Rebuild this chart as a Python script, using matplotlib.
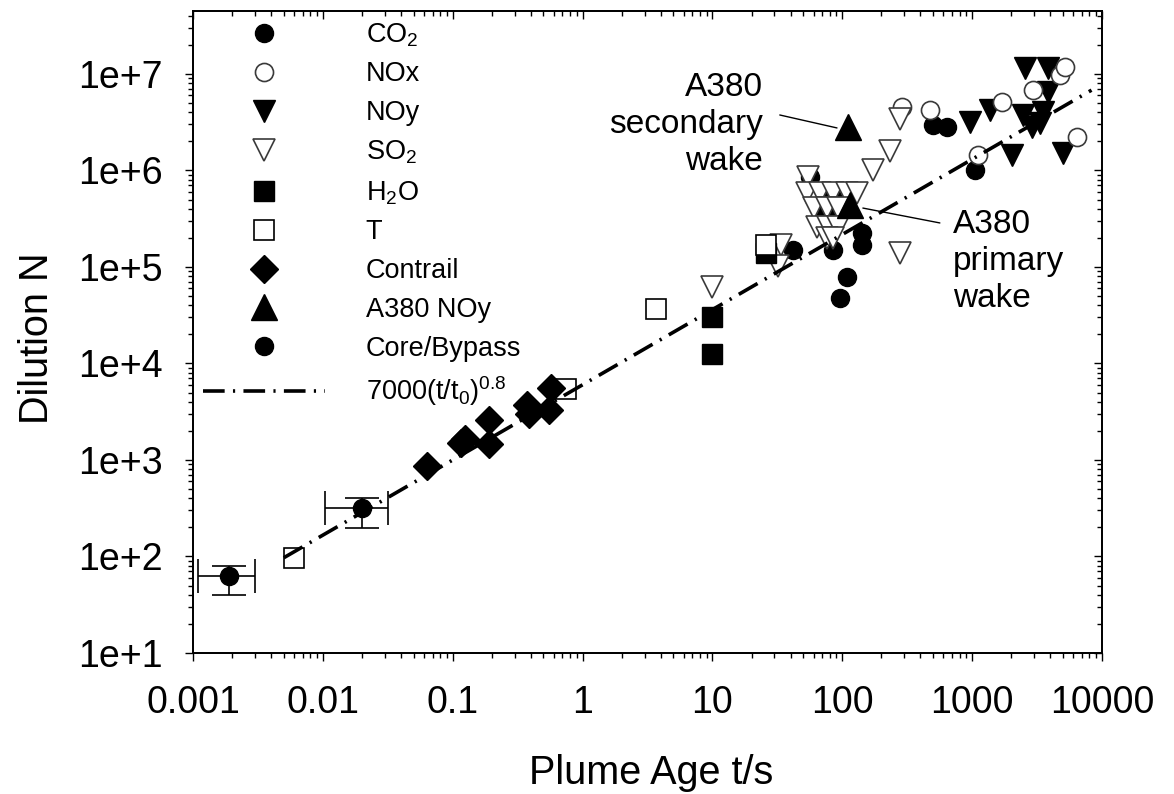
import matplotlib
matplotlib.use("Agg")
import matplotlib.pyplot as plt
from matplotlib.lines import Line2D
from matplotlib.ticker import LogLocator, NullFormatter

plt.rcParams['font.family'] = ['Liberation Sans', 'DejaVu Sans']
plt.rcParams['mathtext.fontset'] = 'custom'
plt.rcParams['mathtext.rm'] = 'Liberation Sans'
plt.rcParams['mathtext.it'] = 'Liberation Sans'
plt.rcParams['mathtext.bf'] = 'Liberation Sans:bold'

# values (plume age t in s, dilution N)
co2_t = [41.6, 56, 84.5, 108, 96, 141, 141, 497, 637, 1047]
co2_n = [1.5e5, 8.5e5, 1.5e5, 7.9e4, 4.8e4, 2.24e5, 1.69e5, 2.95e6, 2.85e6, 1.01e6]

nox_t = [287, 472, 1104, 1690, 2930, 4720, 5160, 6380]
nox_n = [4.5e6, 4.2e6, 1.45e6, 5.1e6, 6.8e6, 9.8e6, 1.18e7, 2.2e6]

noy_t = [957, 1366, 2018, 2540, 3820, 3820, 2455, 2880, 3310, 3540, 4980]
noy_n = [3.2e6, 4.2e6, 1.45e6, 1.15e7, 1.15e7, 6.5e6, 3.8e6, 2.8e6, 3.1e6, 4.0e6, 1.5e6]

so2_t = [9.9, 34, 32, 54, 53, 67, 84.5, 108, 129, 61, 76, 92, 64, 77.5, 92, 76, 84.5,
         277, 172, 232, 277]
so2_n = [6.2e4, 1.7e5, 1.03e5, 8.6e5, 5.85e5, 5.85e5, 5.85e5, 5.85e5, 5.85e5, 4.1e5,
         4.1e5, 4.1e5, 2.6e5, 2.6e5, 2.6e5, 2.0e5, 2.0e5, 1.4e5, 1.0e6, 1.6e6, 3.4e6]

h2o_t = [9.9, 9.9, 26]
h2o_n = [3.0e4, 1.25e4, 1.4e5]

temp_t = [0.006, 0.74, 3.7, 26]
temp_n = [96, 5400, 3.7e4, 1.7e5]

con_t = [0.063, 0.115, 0.124, 0.19, 0.19, 0.37, 0.39, 0.55, 0.57]
con_n = [870, 1500, 1650, 2600, 1450, 3700, 3000, 3300, 5600]

# first two are the labelled secondary/primary wake points, the rest sit behind the SO2 cluster
a380_t = [110, 114, 73, 91]
a380_n = [2.8e6, 4.4e5, 4.6e5, 4.9e5]

core_t = [0.0019, 0.020]
core_n = [63, 318]
core_t_lo = [0.0011, 0.0104]
core_t_hi = [0.0030, 0.032]
core_n_lo = [40, 197]
core_n_hi = [79, 403]

fit_t = [0.005, 8300]
fit_n = [97, 6.8e6]

xticks = [0.001, 0.01, 0.1, 1, 10, 100, 1000, 10000]
xlabels = ["0.001", "0.01", "0.1", "1", "10", "100", "1000", "10000"]
yticks = [1e1, 1e2, 1e3, 1e4, 1e5, 1e6, 1e7]
ylabels = ["1e+1", "1e+2", "1e+3", "1e+4", "1e+5", "1e+6", "1e+7"]

fit_ls = (0, (6, 2.3, 0.6, 2.3))
open_ec = '#3a3a3a'

fig = plt.figure(figsize=(11.74, 7.94), dpi=100)
ax = fig.add_axes([0.1644, 0.1776, 0.7743, 0.8086])
ax.set_xscale('log')
ax.set_yscale('log')

ax.plot(co2_t, co2_n, ls='none', marker='o', ms=13, mfc='k', mec='k', zorder=3)
ax.plot(noy_t, noy_n, ls='none', marker='v', ms=16, mfc='k', mec='k', zorder=3)
ax.plot(nox_t, nox_n, ls='none', marker='o', ms=13, mfc='white', mec=open_ec, mew=1.2, zorder=4)
ax.plot(a380_t[2:], a380_n[2:], ls='none', marker='^', ms=19, mfc='k', mec='k', zorder=4.5)
ax.plot(so2_t, so2_n, ls='none', marker='v', ms=16, mfc='white', mec=open_ec, mew=1.2, zorder=5)
ax.plot(h2o_t, h2o_n, ls='none', marker='s', ms=15, mfc='k', mec='k', zorder=5)
ax.plot(temp_t, temp_n, ls='none', marker='s', ms=15, mfc='white', mec='k', mew=1.2, zorder=6)
ax.plot(con_t, con_n, ls='none', marker='D', ms=14, mfc='k', mec='k', zorder=6)
ax.plot(a380_t[:2], a380_n[:2], ls='none', marker='^', ms=19, mfc='k', mec='k', zorder=7)

xerr = [[t - lo for t, lo in zip(core_t, core_t_lo)], [hi - t for t, hi in zip(core_t, core_t_hi)]]
yerr = [[n - lo for n, lo in zip(core_n, core_n_lo)], [hi - n for n, hi in zip(core_n, core_n_hi)]]
ax.errorbar(core_t, core_n, xerr=xerr, yerr=yerr, fmt='o', ms=13, color='k',
            ecolor='k', elinewidth=1.2, capsize=12, capthick=1.2, zorder=7)

ax.plot(fit_t, fit_n, color='k', lw=2.6, ls=fit_ls, zorder=9)

ax.set_xlim(0.001, 10000)
ax.set_ylim(10, 4.5e7)
ax.set_xticks(xticks)
ax.set_xticklabels(xlabels)
ax.set_yticks(yticks)
ax.set_yticklabels(ylabels)
ax.xaxis.set_minor_locator(LogLocator(base=10, subs=range(2, 10), numticks=30))
ax.yaxis.set_minor_locator(LogLocator(base=10, subs=range(2, 10), numticks=30))
ax.xaxis.set_minor_formatter(NullFormatter())
ax.yaxis.set_minor_formatter(NullFormatter())
ax.tick_params(which='both', direction='out', top=False, right=False, width=1.0)
ax.tick_params(which='major', length=6)
ax.tick_params(which='minor', length=3.5)
ax.tick_params(axis='x', which='major', labelsize=27, pad=17)
ax.tick_params(axis='y', which='major', labelsize=27, pad=16)
for s in ax.spines.values():
    s.set_linewidth(1.1)

# mirrored ticks pointing inwards on top and right
ax_top = ax.twiny()
ax_top.set_xscale('log')
ax_top.set_xlim(0.001, 10000)
ax_top.set_xticks(xticks)
ax_top.xaxis.set_minor_locator(LogLocator(base=10, subs=range(2, 10), numticks=30))
ax_top.tick_params(which='both', direction='in', labeltop=False, width=1.0)
ax_top.tick_params(which='major', length=6)
ax_top.tick_params(which='minor', length=3.5)
ax_right = ax.twinx()
ax_right.set_yscale('log')
ax_right.set_ylim(10, 4.5e7)
ax_right.set_yticks(yticks)
ax_right.yaxis.set_minor_locator(LogLocator(base=10, subs=range(2, 10), numticks=30))
ax_right.tick_params(which='both', direction='in', labelright=False, width=1.0)
ax_right.tick_params(which='major', length=6)
ax_right.tick_params(which='minor', length=3.5)
for a in (ax_top, ax_right):
    for s in a.spines.values():
        s.set_linewidth(1.1)

ax.set_xlabel("Plume Age t/s", fontsize=28.5)
ax.set_ylabel("Dilution N", fontsize=28.5)
ax.xaxis.set_label_coords(0.504, -0.158)
ax.yaxis.set_label_coords(-0.151, 0.49)

ax.text(24.4, 3.0e6, "A380\nsecondary\nwake", ha='right', va='center', ma='right',
        fontsize=24, linespacing=1.25, zorder=10)
ax.annotate('', xy=(91, 2.76e6), xytext=(33, 3.76e6),
            arrowprops=dict(arrowstyle='-', color='k', lw=1, shrinkA=0, shrinkB=0))
ax.text(710, 1.15e5, "A380\nprimary\nwake", ha='left', va='center', ma='left',
        fontsize=24, linespacing=1.25, zorder=10)
ax.annotate('', xy=(144, 4.08e5), xytext=(564, 2.86e5),
            arrowprops=dict(arrowstyle='-', color='k', lw=1, shrinkA=0, shrinkB=0))

handles = [
    Line2D([], [], ls='none', marker='o', ms=13, mfc='k', mec='k'),
    Line2D([], [], ls='none', marker='o', ms=13, mfc='white', mec=open_ec, mew=1.2),
    Line2D([], [], ls='none', marker='v', ms=16, mfc='k', mec='k'),
    Line2D([], [], ls='none', marker='v', ms=16, mfc='white', mec=open_ec, mew=1.2),
    Line2D([], [], ls='none', marker='s', ms=15, mfc='k', mec='k'),
    Line2D([], [], ls='none', marker='s', ms=15, mfc='white', mec='k', mew=1.2),
    Line2D([], [], ls='none', marker='D', ms=14, mfc='k', mec='k'),
    Line2D([], [], ls='none', marker='^', ms=19, mfc='k', mec='k'),
    Line2D([], [], ls='none', marker='o', ms=13, mfc='k', mec='k'),
    Line2D([], [], color='k', lw=2.6, ls=fit_ls),
]
labels = [r"CO$_2$", "NOx", "NOy", r"SO$_2$", r"H$_2$O", "T", "Contrail", "A380 NOy",
          "Core/Bypass", r"7000(t/t$_0$)$^{0.8}$"]
ax.legend(handles, labels, loc='upper left', bbox_to_anchor=(0.011, 0.984),
          frameon=False, fontsize=19.5, handlelength=4.5, handletextpad=1.5,
          labelspacing=0.47, borderpad=0, borderaxespad=0, numpoints=1)

fig.savefig("out.png", dpi=100)
